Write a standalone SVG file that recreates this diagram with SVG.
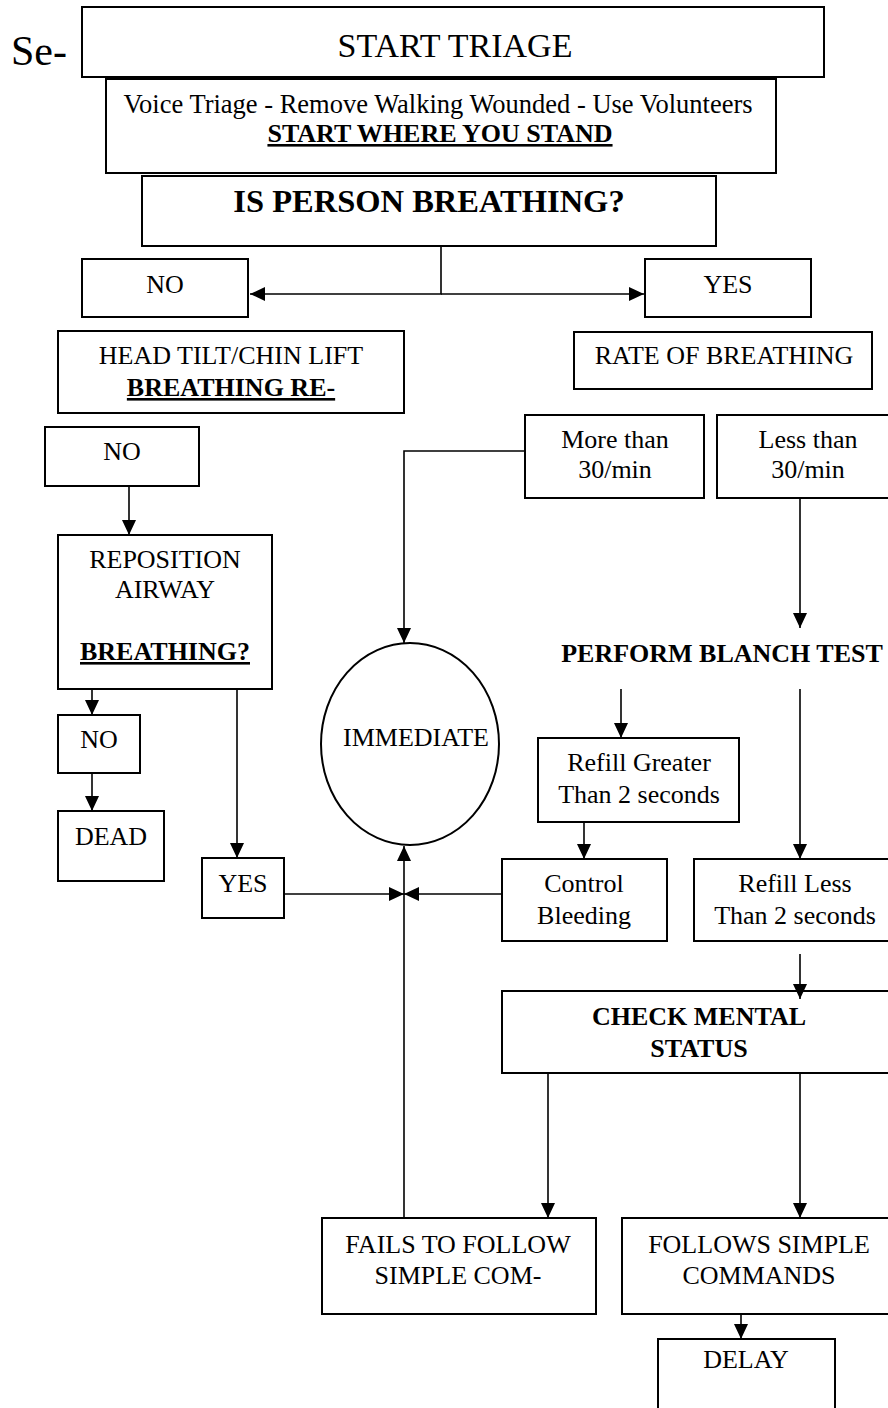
<svg xmlns="http://www.w3.org/2000/svg" width="888" height="1408" viewBox="0 0 888 1408">
<style>
  .box { fill: #fff; stroke: #000; stroke-width: 2; }
  .t { font-family: "Liberation Serif", "Times New Roman", serif; font-size: 26px; fill: #000; text-anchor: middle; }
  .b { font-weight: bold; }
  .u { text-decoration: underline; text-decoration-thickness: 2.5px; }
  .conn { fill: none; stroke: #000; stroke-width: 1.6; }
  .arr { marker-end: url(#ah); }
</style>
<defs>
  <marker id="ah" viewBox="0 0 15 14" refX="15" refY="7" markerWidth="15" markerHeight="14" markerUnits="userSpaceOnUse" orient="auto">
    <path d="M0,0 L15,7 L0,14 z" fill="#000"/>
  </marker>
</defs>
<rect width="888" height="1408" fill="#fff"/>

<text x="11" y="65" class="t" style="font-size:42px;text-anchor:start">Se-</text>

<g id="start-triage">
  <rect class="box" x="82" y="7" width="742" height="70"/>
  <text class="t" x="455" y="57" style="font-size:34px">START TRIAGE</text>
</g>
<g id="voice-triage">
  <rect class="box" x="106" y="79" width="670" height="94"/>
  <text class="t" x="438" y="113" style="font-size:26.5px">Voice Triage - Remove Walking Wounded - Use Volunteers</text>
  <text class="t b u" x="440" y="142">START WHERE YOU STAND</text>
</g>
<g id="is-breathing">
  <rect class="box" x="142" y="176" width="574" height="70"/>
  <text class="t b" x="429" y="212" style="font-size:32.5px">IS PERSON BREATHING?</text>
</g>
<g id="no1">
  <rect class="box" x="82" y="259" width="166" height="58"/>
  <text class="t" x="165" y="293">NO</text>
</g>
<g id="yes1">
  <rect class="box" x="645" y="259" width="166" height="58"/>
  <text class="t" x="728" y="293">YES</text>
</g>
<g id="head-tilt">
  <rect class="box" x="58" y="331" width="346" height="82"/>
  <text class="t" x="231" y="364">HEAD TILT/CHIN LIFT</text>
  <text class="t b u" x="231" y="396">BREATHING RE-</text>
</g>
<g id="rate">
  <rect class="box" x="574" y="332" width="298" height="57"/>
  <text class="t" x="724" y="364">RATE OF BREATHING</text>
</g>
<g id="no2">
  <rect class="box" x="45" y="427" width="154" height="59"/>
  <text class="t" x="122" y="460">NO</text>
</g>
<g id="more-than">
  <rect class="box" x="525" y="415" width="179" height="83"/>
  <text class="t" x="615" y="448">More than</text>
  <text class="t" x="615" y="478">30/min</text>
</g>
<g id="less-than">
  <rect class="box" x="717" y="415" width="190" height="83"/>
  <text class="t" x="808" y="448">Less than</text>
  <text class="t" x="808" y="478">30/min</text>
</g>
<g id="reposition">
  <rect class="box" x="58" y="535" width="214" height="154"/>
  <text class="t" x="165" y="568">REPOSITION</text>
  <text class="t" x="165" y="598">AIRWAY</text>
  <text class="t b u" x="165" y="660">BREATHING?</text>
</g>
<g id="no3">
  <rect class="box" x="58" y="715" width="82" height="58"/>
  <text class="t" x="99" y="748">NO</text>
</g>
<g id="dead">
  <rect class="box" x="58" y="811" width="106" height="70"/>
  <text class="t" x="111" y="845">DEAD</text>
</g>
<g id="immediate">
  <ellipse class="box" cx="410" cy="744" rx="89" ry="101"/>
  <text class="t" x="416" y="746">IMMEDIATE</text>
</g>
<g id="blanch">
  <text class="t b" x="722" y="662">PERFORM BLANCH TEST</text>
</g>
<g id="refill-greater">
  <rect class="box" x="538" y="738" width="201" height="84"/>
  <text class="t" x="639" y="771">Refill Greater</text>
  <text class="t" x="639" y="803">Than 2 seconds</text>
</g>
<g id="yes2">
  <rect class="box" x="202" y="858" width="82" height="60"/>
  <text class="t" x="243" y="892">YES</text>
</g>
<g id="control">
  <rect class="box" x="502" y="859" width="165" height="82"/>
  <text class="t" x="584" y="892">Control</text>
  <text class="t" x="584" y="924">Bleeding</text>
</g>
<g id="refill-less">
  <rect class="box" x="694" y="859" width="210" height="82"/>
  <text class="t" x="795" y="892">Refill Less</text>
  <text class="t" x="795" y="924">Than 2 seconds</text>
</g>
<g id="mental">
  <rect class="box" x="502" y="991" width="400" height="82"/>
  <text class="t b" x="699" y="1025">CHECK MENTAL</text>
  <text class="t b" x="699" y="1057">STATUS</text>
</g>
<g id="fails">
  <rect class="box" x="322" y="1218" width="274" height="96"/>
  <text class="t" x="458" y="1253">FAILS TO FOLLOW</text>
  <text class="t" x="458" y="1284">SIMPLE COM-</text>
</g>
<g id="follows">
  <rect class="box" x="622" y="1218" width="280" height="96"/>
  <text class="t" x="759" y="1253">FOLLOWS SIMPLE</text>
  <text class="t" x="759" y="1284">COMMANDS</text>
</g>
<g id="delay">
  <rect class="box" x="658" y="1339" width="177" height="80"/>
  <text class="t" x="746" y="1368">DELAY</text>
</g>

<g id="connectors">
  <path class="conn arr" d="M441,246 V294 H250"/>
  <path class="conn arr" d="M441,294 H644"/>
  <path class="conn arr" d="M129,486 V535"/>
  <path class="conn arr" d="M92,689 V715"/>
  <path class="conn arr" d="M92,773 V811"/>
  <path class="conn arr" d="M237,689 V858"/>
  <path class="conn arr" d="M525,451 H404 V643"/>
  <path class="conn arr" d="M800,498 V628"/>
  <path class="conn arr" d="M621,689 V738"/>
  <path class="conn arr" d="M800,689 V859"/>
  <path class="conn arr" d="M584,822 V859"/>
  <path class="conn arr" d="M284,894 H404"/>
  <path class="conn arr" d="M502,894 H404"/>
  <path class="conn arr" d="M404,1218 V846"/>
  <path class="conn arr" d="M800,954 V999"/>
  <path class="conn arr" d="M548,1073 V1218"/>
  <path class="conn arr" d="M800,1073 V1218"/>
  <path class="conn arr" d="M741,1314 V1339"/>
</g>
</svg>
